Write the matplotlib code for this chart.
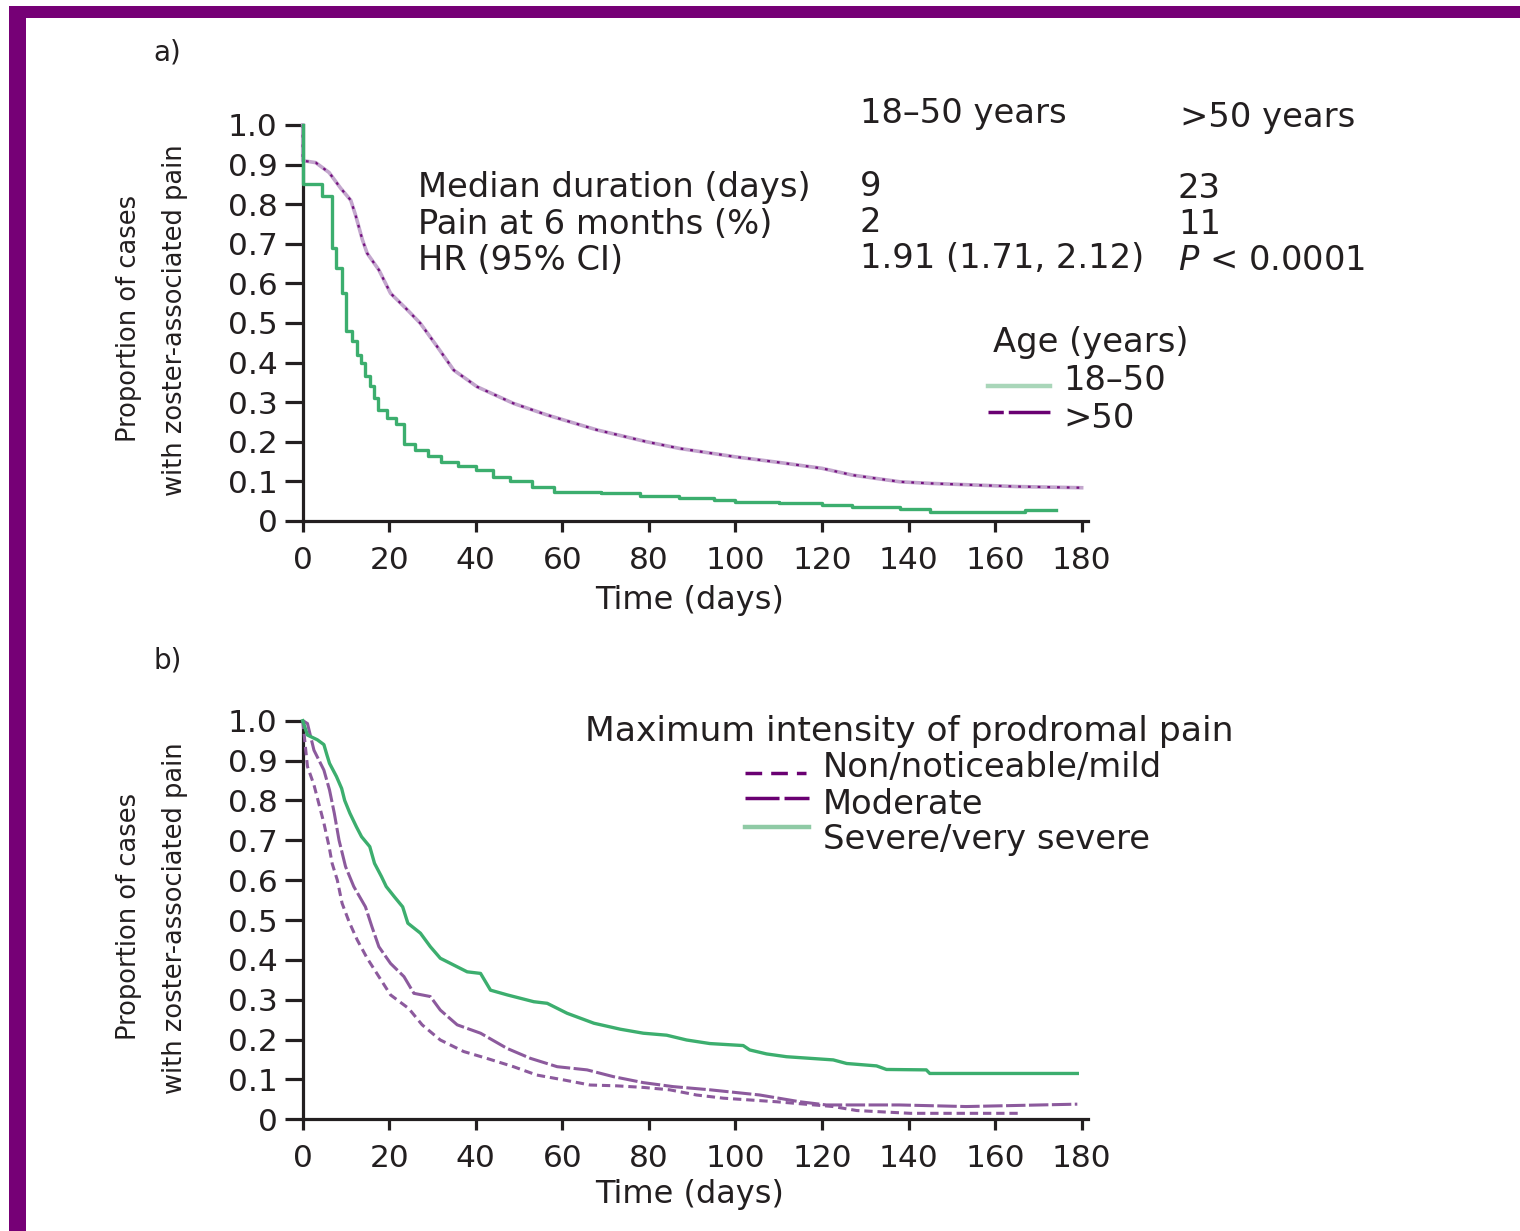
import matplotlib
matplotlib.use("Agg")
import matplotlib.pyplot as plt
from matplotlib.lines import Line2D
from matplotlib.patches import Rectangle

# ---------------- data ----------------
x_ticks = [0, 20, 40, 60, 80, 100, 120, 140, 160, 180]
y_ticks = [0, 0.1, 0.2, 0.3, 0.4, 0.5, 0.6, 0.7, 0.8, 0.9, 1.0]
y_tick_labels = ["0", "0.1", "0.2", "0.3", "0.4", "0.5", "0.6", "0.7", "0.8", "0.9", "1.0"]

# Panel a: age groups
young_days = [0, 0, 4.5, 6.8, 7.6, 9.1, 9.9, 11.3, 12.5, 13.4, 14.3, 15.5, 16.5, 17.5, 19.5,
              21.5, 23.5, 26, 29, 32, 36, 40, 44, 48, 53, 58, 69, 78, 87, 95, 100, 110, 120,
              127, 138, 145, 167, 174]
young_vals = [1.0, 0.85, 0.82, 0.69, 0.64, 0.575, 0.48, 0.455, 0.42, 0.40, 0.365, 0.34, 0.31,
              0.28, 0.26, 0.245, 0.195, 0.18, 0.165, 0.15, 0.14, 0.13, 0.11, 0.10, 0.085, 0.072,
              0.07, 0.063, 0.058, 0.052, 0.048, 0.045, 0.04, 0.035, 0.03, 0.023, 0.028, 0.028]

old_days = [0, 0, 3, 6.1, 8.8, 11.1, 12.2, 13.8, 14.9, 17.6, 20.3, 24.2, 27.2, 31.1, 34.9, 40.3,
            48.7, 56.4, 68, 79.5, 87.2, 100, 110, 120, 127, 138, 145, 155, 165, 180]
old_vals = [1.0, 0.91, 0.905, 0.88, 0.84, 0.81, 0.773, 0.71, 0.676, 0.634, 0.575, 0.533, 0.499,
            0.44, 0.381, 0.339, 0.297, 0.268, 0.23, 0.2, 0.183, 0.162, 0.148, 0.133, 0.116,
            0.099, 0.095, 0.091, 0.087, 0.084]

# Panel b: maximum intensity of prodromal pain
mild_days = [0, 1.1, 2.6, 4.9, 6.1, 6.8, 8, 9.1, 10.7, 12.6, 14.9, 17.6, 20.3, 24.5, 27.6, 31.8,
             37.2, 42.5, 48.7, 54.1, 60.2, 66.4, 72.5, 78.7, 84.8, 91, 97.2, 109.5, 122.6, 128,
             140.4, 151.9, 166]
mild_vals = [1.0, 0.885, 0.839, 0.743, 0.684, 0.642, 0.60, 0.542, 0.496, 0.45, 0.404, 0.358,
             0.312, 0.278, 0.237, 0.199, 0.17, 0.153, 0.132, 0.111, 0.099, 0.086, 0.084, 0.08,
             0.074, 0.061, 0.053, 0.044, 0.032, 0.022, 0.015, 0.015, 0.015]

moderate_days = [0, 1.1, 2.6, 4.9, 6.2, 7.3, 8.4, 9.9, 11.8, 14.5, 16, 17.6, 20.3, 23.4, 25.7,
                 29.5, 31.8, 35.7, 41.1, 47.2, 52.6, 58.8, 65.7, 71.8, 78.7, 85.6, 94.1, 105.6,
                 114.9, 121, 137.9, 153.3, 179]
moderate_vals = [1.0, 0.993, 0.926, 0.876, 0.826, 0.768, 0.70, 0.634, 0.584, 0.533, 0.483,
                 0.433, 0.391, 0.358, 0.316, 0.308, 0.274, 0.237, 0.216, 0.178, 0.153, 0.132,
                 0.124, 0.107, 0.092, 0.082, 0.074, 0.061, 0.044, 0.036, 0.036, 0.032, 0.038]

severe_days = [0, 1.1, 3.4, 4.9, 5.6, 6.2, 7.8, 9, 9.7, 10.9, 12.4, 13.6, 15.5, 16.6, 18.2, 19.3,
               21.2, 23.1, 24.3, 27.2, 29.5, 31.8, 34.9, 38, 41.1, 43.4, 47.3, 53.4, 56.5, 61.1,
               67.3, 73.4, 78.7, 84.1, 88.7, 94.1, 101.8, 103.3, 107.2, 111.8, 122.6, 125.7,
               132.6, 134.9, 144.1, 144.9, 179]
severe_vals = [1.0, 0.964, 0.952, 0.94, 0.914, 0.893, 0.86, 0.83, 0.80, 0.768, 0.734, 0.709,
               0.684, 0.642, 0.609, 0.584, 0.558, 0.533, 0.492, 0.467, 0.433, 0.404, 0.387, 0.37,
               0.366, 0.324, 0.312, 0.295, 0.291, 0.266, 0.241, 0.226, 0.216, 0.211, 0.199, 0.19,
               0.185, 0.174, 0.164, 0.157, 0.149, 0.14, 0.134, 0.125, 0.124, 0.115, 0.115]

# table text of panel a
table_cols = ["18\u201350 years", ">50 years"]
table_rows = ["Median duration (days)", "Pain at 6 months (%)", "HR (95% CI)"]
table_young = ["9", "2", "1.91 (1.71, 2.12)"]
table_old = ["23", "11", "$P$ < 0.0001"]

legend_a_title = "Age (years)"
legend_a_labels = ["18\u201350", ">50"]
legend_b_title = "Maximum intensity of prodromal pain"
legend_b_labels = ["Non/noticeable/mild", "Moderate", "Severe/very severe"]

# ---------------- styling ----------------
plt.rcParams["font.family"] = ["DejaVu Sans"]
plt.rcParams["lines.scale_dashes"] = False
plt.rcParams["mathtext.fontset"] = "dejavusans"

TXT = "#231f20"
GREEN = "#3cae6e"
PURPLE_LIGHT = "#c3a6cd"
PURPLE_DARK = "#74107f"
PURPLE_MID = "#8c5a9d"
BORDER = "#760076"

W, H = 1520, 1231
fig = plt.figure(figsize=(W / 100, H / 100), dpi=100)
fig.patch.set_facecolor("white")


def fx(px):
    return px / W


def fy(py):
    return 1 - py / H


# border (left + top)
fig.add_artist(Rectangle((fx(9), 0), 17 / W, (H - 6) / H, transform=fig.transFigure,
                         color=BORDER, lw=0, zorder=0))
fig.add_artist(Rectangle((fx(9), fy(18)), (W - 9) / W, 12 / H, transform=fig.transFigure,
                         color=BORDER, lw=0, zorder=0))

X0, X1 = 302.7, 1087.7
XMAX = 181.4
TICK_FS = 22.5


def style_axes(ax):
    ax.set_xlim(0, XMAX)
    ax.set_ylim(0, 1.0)
    for s in ["top", "right"]:
        ax.spines[s].set_visible(False)
    for s in ["left", "bottom"]:
        ax.spines[s].set_linewidth(2.3)
        ax.spines[s].set_color(TXT)
    ax.set_xticks(x_ticks)
    ax.set_xticklabels([str(v) for v in x_ticks])
    ax.set_yticks(y_ticks)
    ax.set_yticklabels(y_tick_labels)
    ax.tick_params(axis="y", direction="out", length=13, width=2.3, pad=5,
                   labelsize=TICK_FS, colors=TXT)
    ax.tick_params(axis="x", direction="out", length=8, width=2.3, pad=10,
                   labelsize=TICK_FS, colors=TXT)
    ax.set_facecolor("none")


# ---------------- panel a ----------------
axA = fig.add_axes([fx(X0), fy(521), (X1 - X0) / W, 396 / H])
style_axes(axA)
axA.plot(old_days, old_vals, color=PURPLE_LIGHT, lw=2.6, clip_on=False, zorder=3)
axA.plot(old_days, old_vals, color=PURPLE_DARK, lw=1.6, dashes=(2, 5), clip_on=False, zorder=4)
axA.plot(young_days, young_vals, color=GREEN, lw=2.4, drawstyle="steps-post",
         clip_on=False, zorder=5)

# ---------------- panel b ----------------
axB = fig.add_axes([fx(X0), fy(1119.3), (X1 - X0) / W, 398.6 / H])
style_axes(axB)
axB.plot(mild_days, mild_vals, color=PURPLE_MID, lw=2.2, dashes=(6, 3.5), clip_on=False, zorder=3)
axB.plot(moderate_days, moderate_vals, color=PURPLE_MID, lw=2.2, dashes=(14, 2.5),
         clip_on=False, zorder=4)
axB.plot(severe_days, severe_vals, color=GREEN, lw=2.4, clip_on=False, zorder=5)

# ---------------- texts ----------------
FS = 24.3


def t(px, py, s, **kw):
    kw.setdefault("fontsize", FS)
    kw.setdefault("color", TXT)
    kw.setdefault("ha", "left")
    kw.setdefault("va", "center")
    return fig.text(fx(px), fy(py), s, **kw)


t(153, 52, "a)", fontsize=20)
t(153, 660, "b)", fontsize=20)

for cy in (318, 916):
    t(129, cy, "Proportion of cases", rotation=90, ha="center", fontsize=18.5)
    t(175, cy + 2, "with zoster-associated pain", rotation=90, ha="center", fontsize=18.5)

t(690, 600, "Time (days)", ha="center", fontsize=23)
t(690, 1195, "Time (days)", ha="center", fontsize=23)

# table
t(860, 113, table_cols[0])
t(1180, 117, table_cols[1])
row_y = [188, 224, 261]
for ry, lab, a, b in zip(row_y, table_rows, table_young, table_old):
    t(418, ry, lab)
    t(860, ry - 2, a)
    t(1178, ry, b)

# legend a
t(993, 343, legend_a_title)
fig.add_artist(Line2D([fx(988), fx(1050)], [fy(386), fy(386)], transform=fig.transFigure,
                      color="#a9d6b9", lw=3.2))
fig.add_artist(Line2D([fx(988), fx(1050)], [fy(412), fy(412)], transform=fig.transFigure,
                      color="#6a0072", lw=2.5, dashes=(11, 3.6, 30, 3.6)))
t(1063, 381, legend_a_labels[0])
t(1063, 418, legend_a_labels[1])

# legend b
t(585, 731, legend_b_title, fontsize=24.8)
fig.add_artist(Line2D([fx(745), fx(806)], [fy(773), fy(773)], transform=fig.transFigure,
                      color="#6a0072", lw=2.5, dashes=(12, 6.5)))
fig.add_artist(Line2D([fx(745), fx(809)], [fy(798), fy(798)], transform=fig.transFigure,
                      color="#6a0072", lw=2.5, dashes=(24.5, 3.6)))
fig.add_artist(Line2D([fx(745), fx(809)], [fy(827), fy(827)], transform=fig.transFigure,
                      color="#8fcaa5", lw=3.2))
t(823, 768, legend_b_labels[0])
t(823, 805, legend_b_labels[1])
t(823, 840, legend_b_labels[2])

fig.savefig("out.png", dpi=100, facecolor="white")
